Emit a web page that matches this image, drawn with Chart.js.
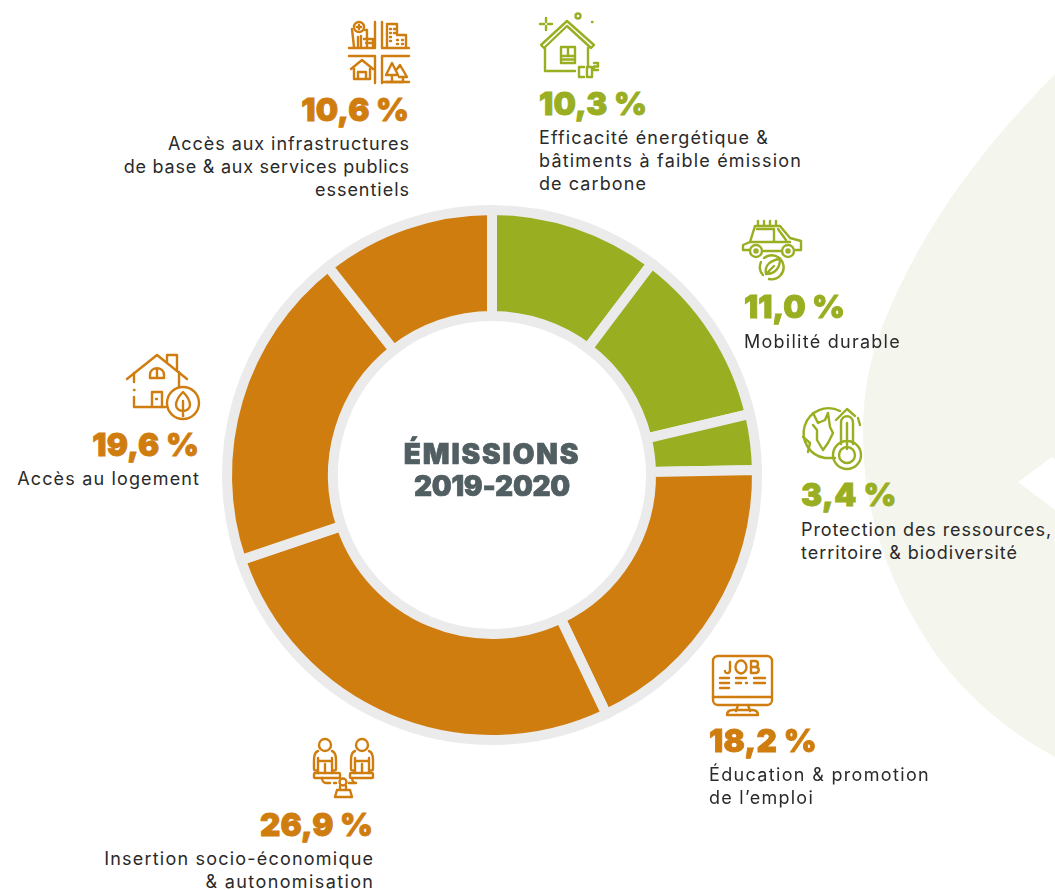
<!DOCTYPE html>
<html lang="fr">
<head>
<meta charset="utf-8">
<title>Émissions 2019-2020</title>
<script src="https://cdn.jsdelivr.net/npm/chart.js@4/dist/chart.umd.min.js"></script>
<style>
html, body { margin: 0; padding: 0; background: #fff; }
#page { position: relative; width: 1055px; height: 890px; overflow: hidden; font-family: Inter, "Open Sans", sans-serif; }
#decor { position: absolute; left: 0; top: 0; }
#donut { position: absolute; left: 212px; top: 205px; }
.pct, .txt, .mid { position: absolute; white-space: nowrap; }
.pct { font-size: 31.5px; line-height: 36px; font-weight: 900; -webkit-text-stroke: 0.9px currentColor; }
.txt { font-size: 18px; line-height: 23px; color: #2a2a2a; }
.txt span, .pct span { display: inline-block; }
.mid { left: 292px; width: 400px; text-align: center; font-size: 28px; line-height: 32px; font-weight: 900; color: #515e62; -webkit-text-stroke: 0.7px currentColor; }
.orange { color: #d07d10; }
.green { color: #9aae22; }
#decor .o, #decor .o * { stroke: #d07d10; }
#decor .g, #decor .g * { stroke: #9aae22; }
#decor g { fill: none; stroke-width: 2.4; stroke-linecap: round; stroke-linejoin: round; }
</style>
</head>
<body>
<div id="page">
<svg id="decor" width="1055" height="890" viewBox="0 0 1055 890">
  <!-- pale leaf behind the right side -->
  <path d="M1055 74 C990 140 930 215 889 310 C868 360 860 400 864 460 C868 520 890 590 940 660 C975 705 1015 735 1055 757 Z" fill="#f4f5ec"/>
  <path d="M1018 482 L1052 457 L1055 459 L1055 510 Z" fill="#fff"/>

  <!-- infrastructures -->
  <g class="o">
    <path d="M375 22V48H349M382 22V48H409M349 56H375V83M382 83V56H409M382 82H409"/>
    <circle cx="359" cy="27" r="5"/><path d="M359 25v4M357 27h4"/>
    <path d="M352 29L354 47M365 30H367V47M358 37V47M361 36V47M364 39H373V47M366 43H371"/>
    <path d="M387 47V24H397V35H406V47M390 29h1M394 29h1M390 33h1M394 33h1M390 37h1M390 41h1M397 40h1M402 40h1M397 44h1M402 44h1"/>
    <path d="M351 69L362 60L373 69M354 68V79H370V68M358 79V72H366V79"/>
    <path d="M386 75L392 63L398 75H386M392 75V82H386M397 69L400 65L407 77H399M403 77V82H392"/>
  </g>

  <!-- efficacite energetique -->
  <g class="g">
    <path d="M541 45L567 21L594 45L591 48L567 26L544 48Z"/>
    <path d="M545 48V71H575M588 48V66"/>
    <path d="M561 47H575V63H561ZM568 47V56M561 56H575M561 59.500H575"/>
    <path d="M546 18V22M546 26V30M540 24H544M548 24H552"/>
    <circle cx="578" cy="16" r="2.500"/>
    <path d="M592 22h0.5"/>
    <path d="M584 67H579V77H584M587 67H592V77H587ZM594 63H598V66.500H594V70H598"/>
  </g>

  <!-- mobilite durable -->
  <g class="g">
    <path d="M749 250H743V245L750 242L755 226H780L790 238L801 241V250H795M782 251H762"/>
    <path d="M750 242H790M757 229H774V242M778 229L786 240"/>
    <path d="M758 221V225M764 221V225M770 221V225M776 221V225"/>
    <circle cx="756" cy="251" r="6"/><circle cx="756" cy="251" r="1.500"/>
    <circle cx="788" cy="251" r="6"/><circle cx="788" cy="251" r="1.500"/>
    <path d="M764 258A12 12 0 1 1 769 279M761 262A12 12 0 0 0 763 275"/>
    <path d="M766 274C764 265 771 260 780 259C780 268 775 274 766 274ZM766 274L774 266"/>
  </g>

  <!-- protection ressources -->
  <g class="g">
    <path d="M840 411A25 25 0 1 0 825 458H835"/>
    <path d="M813 413L818 423L825 420L828 413M828 413L830 427L833 433L828 443L823 450L817 440L817 430L813 425M803 437L810 443L808 452"/>
    <circle cx="847" cy="455" r="14"/><circle cx="847" cy="455" r="8"/>
    <path d="M841 444V423C841 414 853 414 853 423V444M847 423V449"/>
    <path d="M836 420L847 409L855 416M858 418L860 425"/>
  </g>

  <!-- education emploi -->
  <g class="o">
    <rect x="713" y="656" width="59" height="49" rx="5"/>
    <path d="M713 697H772M738 705L736 711M748 705L750 711M727 715C727 711 730 710 733 710H752C756 710 758 712 758 715Z"/>
    <path d="M730 662V670C730 674 725 674 725 671"/>
    <ellipse cx="741" cy="667" rx="5.500" ry="6.500"/>
    <path d="M751 661V673H755C760 673 760 667 755 667H751M755 667C759 667 759 661 755 661H751"/>
    <path d="M720 678H729M736 678H746M754 678H765M720 683H729M736 683H741M746 683H747M754 683H765M720 688H729"/>
  </g>

  <!-- insertion -->
  <g class="o">
    <circle cx="325" cy="745" r="6"/><circle cx="362" cy="745" r="6"/>
    <path d="M318 751C315 752 314 755 314 760V769C314 771 318 771 318 769V758M318 760V773M332 751C335 752 336 755 336 760V769C336 771 332 771 332 769V758M332 760V773M319 761H331M325 764V773"/>
    <path d="M355 751C352 752 351 755 351 760V769C351 771 355 771 355 769V758M355 760V773M369 751C372 752 373 755 373 760V769C373 771 369 771 369 769V758M369 760V773M356 761H368M362 764V773"/>
    <rect x="314" y="773" width="26" height="5" rx="1"/>
    <rect x="350" y="773" width="23" height="5" rx="1"/>
    <path d="M322 778C322 781 324 783 326 783H330M334 783H336M352 778C352 781 354 783 356 783H349"/>
    <circle cx="343" cy="782" r="3.500"/>
    <path d="M340 786V790H337L335 797H352L350 790H346V786M337 790H350"/>
  </g>

  <!-- logement -->
  <g class="o">
    <path d="M127 379L157 355L187 379"/>
    <path d="M167 362V355H177V370"/>
    <path d="M150 378V375C150 366 164 366 164 375V378ZM157 369V378"/>
    <path d="M134 373V382M134 390H134.500M134 397V407H166"/>
    <path d="M152 407V392H162V407M156 399h1"/>
    <path d="M179 372V387"/>
    <circle cx="183" cy="403" r="16"/>
    <path d="M183 392C177 398 176 402 176 405C176 409 180 411 183 411C186 411 190 409 190 405C190 402 189 398 183 392ZM183 401V416"/>
  </g>
</svg>
<canvas id="donut" width="560" height="540"></canvas>
<div id="labels"></div>
</div>

<script>
var categories = [
	['Efficacité énergétique &', 'bâtiments à faible émission', 'de carbone'],
	['Mobilité durable'],
	['Protection des ressources,', 'territoire & biodiversité'],
	['Éducation & promotion', 'de l’emploi'],
	['Insertion socio-économique', '& autonomisation'],
	['Accès au logement'],
	['Accès aux infrastructures', 'de base & aux services publics', 'essentiels']
];
var values = [10.3, 11.0, 3.4, 18.2, 26.9, 19.6, 10.6];
var groups = ['green', 'green', 'green', 'orange', 'orange', 'orange', 'orange'];
var groupColors = { green: '#9aae22', orange: '#d07d10' };
var centerLines = ['ÉMISSIONS', '2019-2020'];

// where each block of text sits on the page: x edge, top of number, top of text
var textLayout = [
	{ x: 539, top: 86, textTop: 126, side: 'left' },
	{ x: 744, top: 289, textTop: 330, side: 'left' },
	{ x: 801, top: 477, textTop: 518, side: 'left' },
	{ x: 709, top: 723, textTop: 763, side: 'left' },
	{ x: 373, top: 807, textTop: 847, side: 'right' },
	{ x: 199, top: 427, textTop: 467, side: 'right' },
	{ x: 409, top: 92, textTop: 132, side: 'right' }
];
// printed widths, Montserrat is wider than what is installed here
var lineWidths = [[230, 263, 108], [157], [251, 217], [221, 105], [270, 169], [183], [242, 286, 95]];
var pctWidths = [108, 101, 96, 108, 113, 107, 108];
var centerSpacing = [1.9, -0.3];

function place(el, spot, top) {
	el.style.top = top + 'px';
	if (spot.side === 'left') el.style.left = spot.x + 'px';
	else {
		el.style.right = (1055 - spot.x) + 'px';
		el.style.textAlign = 'right';
	}
}

// stretch one line to its printed width with letter spacing
function fitLine(parent, text, width, side) {
	var span = document.createElement('span');
	span.textContent = text;
	parent.appendChild(span);
	var gap = (width - span.getBoundingClientRect().width) / text.length;
	span.style.letterSpacing = gap + 'px';
	if (side === 'right') span.style.marginRight = (-gap) + 'px';
}

var holder = document.getElementById('labels');
values.forEach(function (v, i) {
	var spot = textLayout[i];

	var pct = document.createElement('div');
	pct.className = 'pct ' + groups[i];
	place(pct, spot, spot.top);
	holder.appendChild(pct);
	fitLine(pct, v.toFixed(1).replace('.', ',') + ' %', pctWidths[i], spot.side);

	var txt = document.createElement('div');
	txt.className = 'txt';
	place(txt, spot, spot.textTop);
	holder.appendChild(txt);
	categories[i].forEach(function (line, j) {
		if (j > 0) txt.appendChild(document.createElement('br'));
		fitLine(txt, line, lineWidths[i][j], spot.side);
	});
});

centerLines.forEach(function (line, i) {
	var mid = document.createElement('div');
	mid.className = 'mid';
	mid.textContent = line;
	mid.style.top = (438 + i * 32) + 'px';
	mid.style.letterSpacing = centerSpacing[i] + 'px';
	holder.appendChild(mid);
});

new Chart(document.getElementById('donut'), {
	type: 'doughnut',
	data: {
		labels: categories.map(function (c) { return c.join(' '); }),
		datasets: [{
			data: values,
			backgroundColor: groups.map(function (g) { return groupColors[g]; }),
			borderColor: '#ebebeb',
			borderWidth: 10,
			borderJoinStyle: 'miter',
			hoverOffset: 0
		}]
	},
	options: {
		responsive: false,
		animation: false,
		cutout: 159,
		layout: { padding: 0 },
		plugins: {
			legend: { display: false },
			tooltip: { enabled: false }
		}
	}
});
</script>
</body>
</html>
